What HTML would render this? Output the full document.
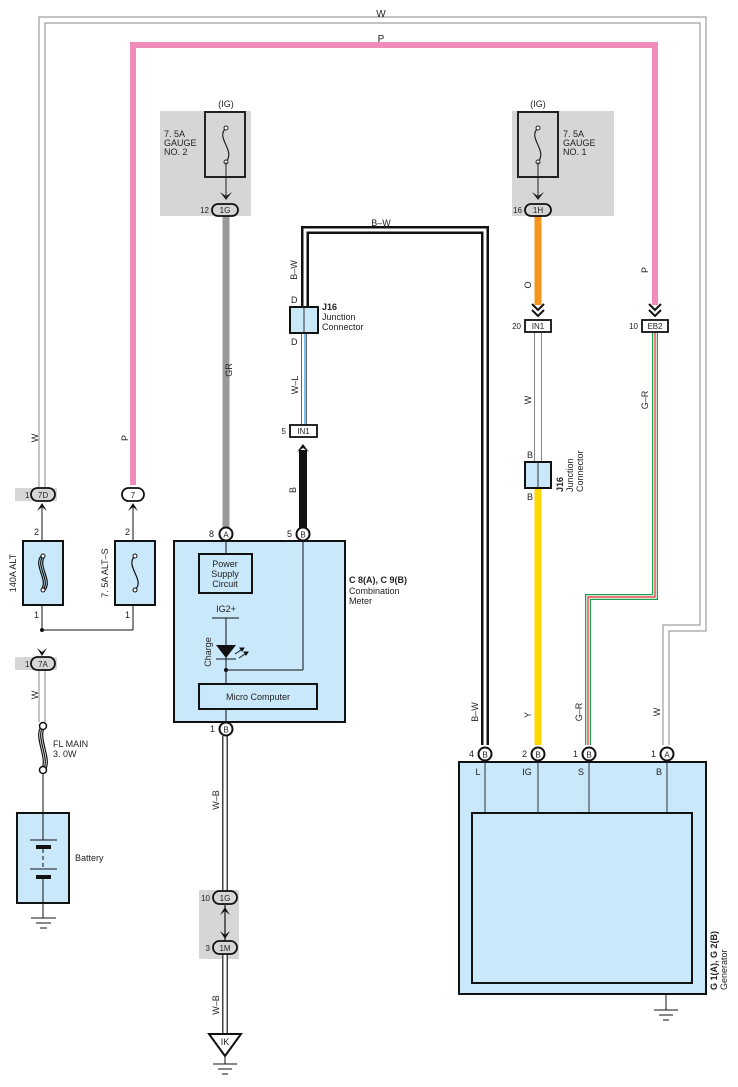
<!DOCTYPE html>
<html><head><meta charset="utf-8"><style>
html,body{margin:0;padding:0;background:#fff}
svg{display:block}
text{font-family:"Liberation Sans",sans-serif;fill:#222}
</style></head><body>
<svg width="738" height="1087" viewBox="0 0 738 1087" xmlns="http://www.w3.org/2000/svg">
<!-- gray shaded areas -->
<rect x="160" y="111" width="91" height="105" fill="#d6d6d6"/>
<rect x="512" y="111" width="102" height="105" fill="#d6d6d6"/>
<rect x="15" y="488" width="42" height="13" fill="#d6d6d6"/>
<rect x="15" y="657" width="42" height="13" fill="#d6d6d6"/>
<rect x="199" y="890" width="40" height="69" fill="#d6d6d6"/>

<!-- W wire big loop -->
<polyline points="42,488 42,20 703,20 703,628 666,628 666,745" fill="none" stroke="#888" stroke-width="7"/>
<polyline points="42,488 42,20 703,20 703,628 666,628 666,745" fill="none" stroke="#fff" stroke-width="5"/>
<!-- P pink -->
<polyline points="133,485 133,45 655,45 655,305" fill="none" stroke="#f08cbc" stroke-width="6"/>
<!-- GR -->
<line x1="226" y1="216" x2="226" y2="528" stroke="#999" stroke-width="7"/>
<!-- B-W -->
<polyline points="305,307 305,230 485,230 485,745" fill="none" stroke="#111" stroke-width="8"/>
<polyline points="305,307 305,230 485,230 485,745" fill="none" stroke="#fff" stroke-width="3"/>
<!-- W-L -->
<line x1="304" y1="333" x2="304" y2="425" stroke="#666" stroke-width="6"/>
<line x1="304" y1="333" x2="304" y2="425" stroke="#fff" stroke-width="4"/>
<line x1="305" y1="333" x2="305" y2="425" stroke="#4ab0e8" stroke-width="1.5"/>
<!-- B thick -->
<line x1="303" y1="450" x2="303" y2="528" stroke="#111" stroke-width="8"/>
<!-- Orange -->
<line x1="538" y1="216" x2="538" y2="305" stroke="#f7941d" stroke-width="7"/>
<!-- W under IN1 -->
<line x1="538" y1="332" x2="538" y2="462" stroke="#888" stroke-width="8"/>
<line x1="538" y1="332" x2="538" y2="462" stroke="#fff" stroke-width="6"/>
<!-- Yellow -->
<line x1="538" y1="488" x2="538" y2="745" stroke="#ffd700" stroke-width="7"/>
<!-- G-R -->
<polyline points="655,332 655,597 588,597 588,745" fill="none" stroke="#1aa34a" stroke-width="6"/>
<polyline points="655,332 655,597 588,597 588,745" fill="none" stroke="#fff" stroke-width="3.5"/>
<polyline points="655,332 655,597 588,597 588,745" fill="none" stroke="#e0262a" stroke-width="1.2"/>
<!-- W left lower -->
<line x1="42" y1="670" x2="42" y2="722" stroke="#888" stroke-width="7"/>
<line x1="42" y1="670" x2="42" y2="722" stroke="#fff" stroke-width="5"/>
<!-- W-B -->
<line x1="225" y1="736" x2="225" y2="1033" stroke="#444" stroke-width="6"/>
<line x1="225" y1="736" x2="225" y2="1033" stroke="#fff" stroke-width="3"/>
<line x1="225" y1="905" x2="225" y2="941" stroke="#d6d6d6" stroke-width="6"/>
<line x1="225" y1="905" x2="225" y2="941" stroke="#111" stroke-width="1.2"/>

<!-- top labels -->
<text x="381" y="17" font-size="10" text-anchor="middle">W</text>
<text x="381" y="42" font-size="10" text-anchor="middle">P</text>

<!-- fuse gauge no.2 -->
<text x="226" y="107" font-size="9" text-anchor="middle">(IG)</text>
<rect x="205" y="112" width="40" height="65" fill="#d6d6d6" stroke="#222" stroke-width="2"/>
<path d="M226,128 C215,138 236,150 226,162" fill="none" stroke="#222" stroke-width="1.2"/>
<circle cx="226" cy="128" r="2" fill="#fff" stroke="#222"/><circle cx="226" cy="162" r="2" fill="#fff" stroke="#222"/>
<line x1="226" y1="162" x2="226" y2="198" stroke="#222"/>
<path d="M220,192 L226,200 L232,192 L226,196Z" fill="#222"/>
<text x="164" y="137" font-size="9">7. 5A</text><text x="164" y="146" font-size="9">GAUGE</text><text x="164" y="155" font-size="9">NO. 2</text>
<rect x="212" y="204" width="26" height="12" rx="6" fill="#d6d6d6" stroke="#111" stroke-width="1.8"/>
<text x="225" y="213" font-size="8" text-anchor="middle">1G</text>
<text x="209" y="213" font-size="8" text-anchor="end">12</text>

<!-- fuse gauge no.1 -->
<text x="538" y="107" font-size="9" text-anchor="middle">(IG)</text>
<rect x="518" y="112" width="40" height="65" fill="#d6d6d6" stroke="#222" stroke-width="2"/>
<path d="M538,128 C527,138 548,150 538,162" fill="none" stroke="#222" stroke-width="1.2"/>
<circle cx="538" cy="128" r="2" fill="#fff" stroke="#222"/><circle cx="538" cy="162" r="2" fill="#fff" stroke="#222"/>
<line x1="538" y1="162" x2="538" y2="198" stroke="#222"/>
<path d="M532,192 L538,200 L544,192 L538,196Z" fill="#222"/>
<text x="563" y="137" font-size="9">7. 5A</text><text x="563" y="146" font-size="9">GAUGE</text><text x="563" y="155" font-size="9">NO. 1</text>
<rect x="525" y="204" width="26" height="12" rx="6" fill="#d6d6d6" stroke="#111" stroke-width="1.8"/>
<text x="538" y="213" font-size="8" text-anchor="middle">1H</text>
<text x="522" y="213" font-size="8" text-anchor="end">16</text>

<!-- wire labels rotated -->
<text transform="translate(297,270) rotate(-90)" font-size="9" text-anchor="middle">B–W</text>
<text x="381" y="226" font-size="9" text-anchor="middle">B–W</text>
<text transform="translate(232,370) rotate(-90)" font-size="9" text-anchor="middle">GR</text>
<text transform="translate(298,385) rotate(-90)" font-size="9" text-anchor="middle">W–L</text>
<text transform="translate(296,490) rotate(-90)" font-size="9" text-anchor="middle">B</text>
<text transform="translate(531,285) rotate(-90)" font-size="9" text-anchor="middle">O</text>
<text transform="translate(531,400) rotate(-90)" font-size="9" text-anchor="middle">W</text>
<text transform="translate(531,715) rotate(-90)" font-size="9" text-anchor="middle">Y</text>
<text transform="translate(648,270) rotate(-90)" font-size="9" text-anchor="middle">P</text>
<text transform="translate(648,400) rotate(-90)" font-size="9" text-anchor="middle">G–R</text>
<text transform="translate(582,712) rotate(-90)" font-size="9" text-anchor="middle">G–R</text>
<text transform="translate(478,712) rotate(-90)" font-size="9" text-anchor="middle">B–W</text>
<text transform="translate(660,712) rotate(-90)" font-size="9" text-anchor="middle">W</text>
<text transform="translate(38,438) rotate(-90)" font-size="9" text-anchor="middle">W</text>
<text transform="translate(128,438) rotate(-90)" font-size="9" text-anchor="middle">P</text>
<text transform="translate(38,695) rotate(-90)" font-size="9" text-anchor="middle">W</text>
<text transform="translate(219,800) rotate(-90)" font-size="9" text-anchor="middle">W–B</text>
<text transform="translate(219,1005) rotate(-90)" font-size="9" text-anchor="middle">W–B</text>

<!-- J16 top -->
<rect x="290" y="307" width="28" height="26" fill="#c9e8fa" stroke="#111" stroke-width="2"/>
<line x1="304" y1="307" x2="304" y2="333" stroke="#333"/>
<text x="291" y="303" font-size="9">D</text><text x="291" y="345" font-size="9">D</text>
<text x="322" y="310" font-size="9" font-weight="bold">J16</text>
<text x="322" y="320" font-size="9">Junction</text><text x="322" y="330" font-size="9">Connector</text>
<!-- IN1 left -->
<path d="M297,452 L303,444 L309,452 L303,448Z" fill="#111"/>
<rect x="290" y="425" width="27" height="12" fill="#fff" stroke="#111" stroke-width="1.8"/>
<text x="303.5" y="434" font-size="8" text-anchor="middle">IN1</text>
<text x="286" y="434" font-size="8" text-anchor="end">5</text>

<!-- IN1 right, EB2 -->
<path d="M532,304 L538,310 L544,304 M532,310 L538,316 L544,310" fill="none" stroke="#111" stroke-width="2"/>
<rect x="525" y="320" width="26" height="12" fill="#fff" stroke="#111" stroke-width="1.8"/>
<text x="538" y="329" font-size="8" text-anchor="middle">IN1</text>
<text x="521" y="329" font-size="8" text-anchor="end">20</text>
<path d="M649,304 L655,310 L661,304 M649,310 L655,316 L661,310" fill="none" stroke="#111" stroke-width="2"/>
<rect x="642" y="320" width="26" height="12" fill="#fff" stroke="#111" stroke-width="1.8"/>
<text x="655" y="329" font-size="8" text-anchor="middle">EB2</text>
<text x="638" y="329" font-size="8" text-anchor="end">10</text>
<!-- J16 right -->
<rect x="525" y="462" width="26" height="26" fill="#c9e8fa" stroke="#111" stroke-width="2"/>
<line x1="538" y1="462" x2="538" y2="488" stroke="#333"/>
<text x="527" y="458" font-size="9">B</text><text x="527" y="500" font-size="9">B</text>
<text transform="translate(563,492) rotate(-90)" font-size="9" font-weight="bold">J16</text>
<text transform="translate(573,492) rotate(-90)" font-size="9">Junction</text>
<text transform="translate(583,492) rotate(-90)" font-size="9">Connector</text>

<!-- Left: 7D, fuses -->
<rect x="31" y="488" width="24" height="13" rx="6.5" fill="#d6d6d6" stroke="#111" stroke-width="1.8"/>
<text x="43" y="498" font-size="8" text-anchor="middle">7D</text>
<text x="25" y="498" font-size="8">1</text>
<rect x="122" y="488" width="22" height="13" rx="6.5" fill="#fff" stroke="#111" stroke-width="1.8"/>
<text x="133" y="498" font-size="8" text-anchor="middle">7</text>
<path d="M37,511 L42,503 L47,511 L42,507Z" fill="#111"/>
<path d="M128,511 L133,503 L138,511 L133,507Z" fill="#111"/>
<line x1="42" y1="505" x2="42" y2="630" stroke="#111"/>
<line x1="133" y1="505" x2="133" y2="630" stroke="#111"/>
<line x1="42" y1="630" x2="133" y2="630" stroke="#111"/>
<circle cx="42" cy="630" r="2" fill="#111"/>
<text x="34" y="535" font-size="9">2</text><text x="125" y="535" font-size="9">2</text>
<text x="34" y="618" font-size="9">1</text><text x="125" y="618" font-size="9">1</text>
<rect x="23" y="541" width="40" height="64" fill="#c9e8fa" stroke="#111" stroke-width="2"/>
<rect x="115" y="541" width="40" height="64" fill="#c9e8fa" stroke="#111" stroke-width="2"/>
<path d="M43,556 C35,566 51,580 43,590 M41,556 C33,566 49,580 41,590 M45,556 C37,566 53,580 45,590" fill="none" stroke="#111" stroke-width="1.2"/>
<circle cx="43" cy="556" r="2" fill="#fff" stroke="#111"/><circle cx="43" cy="590" r="2" fill="#fff" stroke="#111"/>
<path d="M135,556 C124,566 146,580 135,590" fill="none" stroke="#111" stroke-width="1.2"/>
<circle cx="135" cy="556" r="2" fill="#fff" stroke="#111"/><circle cx="135" cy="590" r="2" fill="#fff" stroke="#111"/>
<text transform="translate(16,573) rotate(-90)" font-size="9" text-anchor="middle">140A ALT</text>
<text transform="translate(108,573) rotate(-90)" font-size="9" text-anchor="middle">7. 5A ALT–S</text>
<path d="M37,648 L42,656 L47,648 L42,652Z" fill="#111"/>
<rect x="31" y="657" width="24" height="13" rx="6.5" fill="#d6d6d6" stroke="#111" stroke-width="1.8"/>
<text x="43" y="667" font-size="8" text-anchor="middle">7A</text>
<text x="25" y="667" font-size="8">1</text>
<!-- FL main -->
<path d="M43,727 C35,737 51,760 43,770 M41,727 C33,737 49,760 41,770 M45,727 C37,737 53,760 45,770" fill="none" stroke="#111" stroke-width="1.2"/>
<circle cx="43" cy="726" r="3.5" fill="#fff" stroke="#111" stroke-width="1.5"/><circle cx="43" cy="770" r="3.5" fill="#fff" stroke="#111" stroke-width="1.5"/>
<text x="53" y="747" font-size="9">FL MAIN</text><text x="53" y="757" font-size="9">3. 0W</text>
<line x1="43" y1="774" x2="43" y2="813" stroke="#111"/>
<!-- battery -->
<rect x="17" y="813" width="52" height="90" fill="#c9e8fa" stroke="#111" stroke-width="2"/>
<line x1="43" y1="813" x2="43" y2="840" stroke="#111"/>
<line x1="30" y1="840" x2="57" y2="840" stroke="#111"/>
<rect x="36" y="845" width="15" height="4" fill="#111"/>
<line x1="43" y1="849" x2="43" y2="869" stroke="#111" stroke-dasharray="4,3"/>
<line x1="30" y1="869" x2="57" y2="869" stroke="#111"/>
<rect x="36" y="875" width="15" height="4" fill="#111"/>
<line x1="43" y1="879" x2="43" y2="918" stroke="#111"/>
<text x="75" y="861" font-size="9">Battery</text>
<line x1="31" y1="918" x2="56" y2="918" stroke="#111"/><line x1="36" y1="923" x2="51" y2="923" stroke="#111"/><line x1="40" y1="928" x2="47" y2="928" stroke="#111"/>

<!-- Combination meter -->
<rect x="174" y="541" width="171" height="181" fill="#c9e8fa" stroke="#111" stroke-width="2"/>
<line x1="226" y1="540" x2="226" y2="555" stroke="#111"/>
<rect x="199" y="554" width="53" height="39" fill="#c9e8fa" stroke="#111" stroke-width="2"/>
<text x="225" y="567" font-size="9" text-anchor="middle">Power</text>
<text x="225" y="577" font-size="9" text-anchor="middle">Supply</text>
<text x="225" y="587" font-size="9" text-anchor="middle">Circuit</text>
<text x="226" y="612" font-size="9" text-anchor="middle">IG2+</text>
<line x1="212" y1="618" x2="239" y2="618" stroke="#111"/>
<line x1="226" y1="618" x2="226" y2="684" stroke="#111"/>
<path d="M216,645 L236,645 L226,658Z" fill="#111"/>
<line x1="216" y1="659" x2="236" y2="659" stroke="#111"/>
<path d="M235,654 L244,648 M239,658 L248,652" stroke="#111"/>
<path d="M244,648 l-4,0 l2,3z M248,652 l-4,0 l2,3z" fill="#111" stroke="#111"/>
<text transform="translate(211,652) rotate(-90)" font-size="9" text-anchor="middle">Charge</text>
<line x1="303" y1="540" x2="303" y2="670" stroke="#111"/>
<line x1="226" y1="670" x2="303" y2="670" stroke="#111"/>
<circle cx="226" cy="670" r="2" fill="#111"/>
<rect x="199" y="684" width="118" height="25" fill="#c9e8fa" stroke="#111" stroke-width="2"/>
<text x="258" y="700" font-size="9" text-anchor="middle">Micro Computer</text>
<line x1="226" y1="709" x2="226" y2="725" stroke="#111"/>
<circle cx="226" cy="534" r="6.5" fill="#fff" stroke="#111" stroke-width="2"/><text x="226" y="537.5" font-size="8" text-anchor="middle">A</text>
<text x="214" y="537" font-size="9" text-anchor="end">8</text>
<circle cx="303" cy="534" r="6.5" fill="#fff" stroke="#111" stroke-width="2"/><text x="303" y="537.5" font-size="8" text-anchor="middle">B</text>
<text x="292" y="537" font-size="9" text-anchor="end">5</text>
<circle cx="226" cy="729" r="6.5" fill="#fff" stroke="#111" stroke-width="2"/><text x="226" y="732.5" font-size="8" text-anchor="middle">B</text>
<text x="215" y="732" font-size="9" text-anchor="end">1</text>
<text x="349" y="583" font-size="9" font-weight="bold">C 8(A), C 9(B)</text>
<text x="349" y="594" font-size="9">Combination</text>
<text x="349" y="604" font-size="9">Meter</text>

<!-- 1G 1M -->
<rect x="213" y="891" width="24" height="13" rx="6.5" fill="#d6d6d6" stroke="#111" stroke-width="1.8"/>
<text x="225" y="901" font-size="8" text-anchor="middle">1G</text>
<text x="210" y="901" font-size="8" text-anchor="end">10</text>
<path d="M220,915 L225,907 L230,915 L225,911Z" fill="#111"/>
<path d="M220,931 L225,939 L230,931 L225,935Z" fill="#111"/>
<rect x="213" y="941" width="24" height="13" rx="6.5" fill="#d6d6d6" stroke="#111" stroke-width="1.8"/>
<text x="225" y="951" font-size="8" text-anchor="middle">1M</text>
<text x="210" y="951" font-size="8" text-anchor="end">3</text>
<!-- IK -->
<path d="M209,1034 L241,1034 L225,1056Z" fill="#fff" stroke="#111" stroke-width="2"/>
<text x="225" y="1045" font-size="9" text-anchor="middle">IK</text>
<line x1="225" y1="1056" x2="225" y2="1064" stroke="#111"/>
<line x1="213" y1="1064" x2="237" y2="1064" stroke="#111"/><line x1="218" y1="1069" x2="232" y2="1069" stroke="#111"/><line x1="222" y1="1074" x2="228" y2="1074" stroke="#111"/>

<!-- Generator -->
<rect x="459" y="762" width="247" height="232" fill="#c9e8fa" stroke="#111" stroke-width="2"/>
<rect x="472" y="813" width="220" height="170" fill="#c9e8fa" stroke="#111" stroke-width="2"/>
<line x1="485" y1="762" x2="485" y2="813" stroke="#333"/>
<line x1="538" y1="762" x2="538" y2="813" stroke="#333"/>
<line x1="589" y1="762" x2="589" y2="813" stroke="#333"/>
<line x1="667" y1="762" x2="667" y2="813" stroke="#333"/>
<text x="478" y="775" font-size="9" text-anchor="middle">L</text>
<text x="527" y="775" font-size="9" text-anchor="middle">IG</text>
<text x="581" y="775" font-size="9" text-anchor="middle">S</text>
<text x="659" y="775" font-size="9" text-anchor="middle">B</text>
<circle cx="485" cy="754" r="6.5" fill="#fff" stroke="#111" stroke-width="2"/><text x="485" y="757.5" font-size="8" text-anchor="middle">B</text>
<text x="474" y="757" font-size="9" text-anchor="end">4</text>
<circle cx="538" cy="754" r="6.5" fill="#fff" stroke="#111" stroke-width="2"/><text x="538" y="757.5" font-size="8" text-anchor="middle">B</text>
<text x="527" y="757" font-size="9" text-anchor="end">2</text>
<circle cx="589" cy="754" r="6.5" fill="#fff" stroke="#111" stroke-width="2"/><text x="589" y="757.5" font-size="8" text-anchor="middle">B</text>
<text x="578" y="757" font-size="9" text-anchor="end">1</text>
<circle cx="667" cy="754" r="6.5" fill="#fff" stroke="#111" stroke-width="2"/><text x="667" y="757.5" font-size="8" text-anchor="middle">A</text>
<text x="656" y="757" font-size="9" text-anchor="end">1</text>
<text transform="translate(717,990) rotate(-90)" font-size="9" font-weight="bold">G 1(A), G 2(B)</text>
<text transform="translate(727,990) rotate(-90)" font-size="9">Generator</text>
<line x1="666" y1="994" x2="666" y2="1010" stroke="#111"/>
<line x1="654" y1="1010" x2="678" y2="1010" stroke="#111"/><line x1="659" y1="1015" x2="673" y2="1015" stroke="#111"/><line x1="663" y1="1020" x2="669" y2="1020" stroke="#111"/>
</svg>
</body></html>
